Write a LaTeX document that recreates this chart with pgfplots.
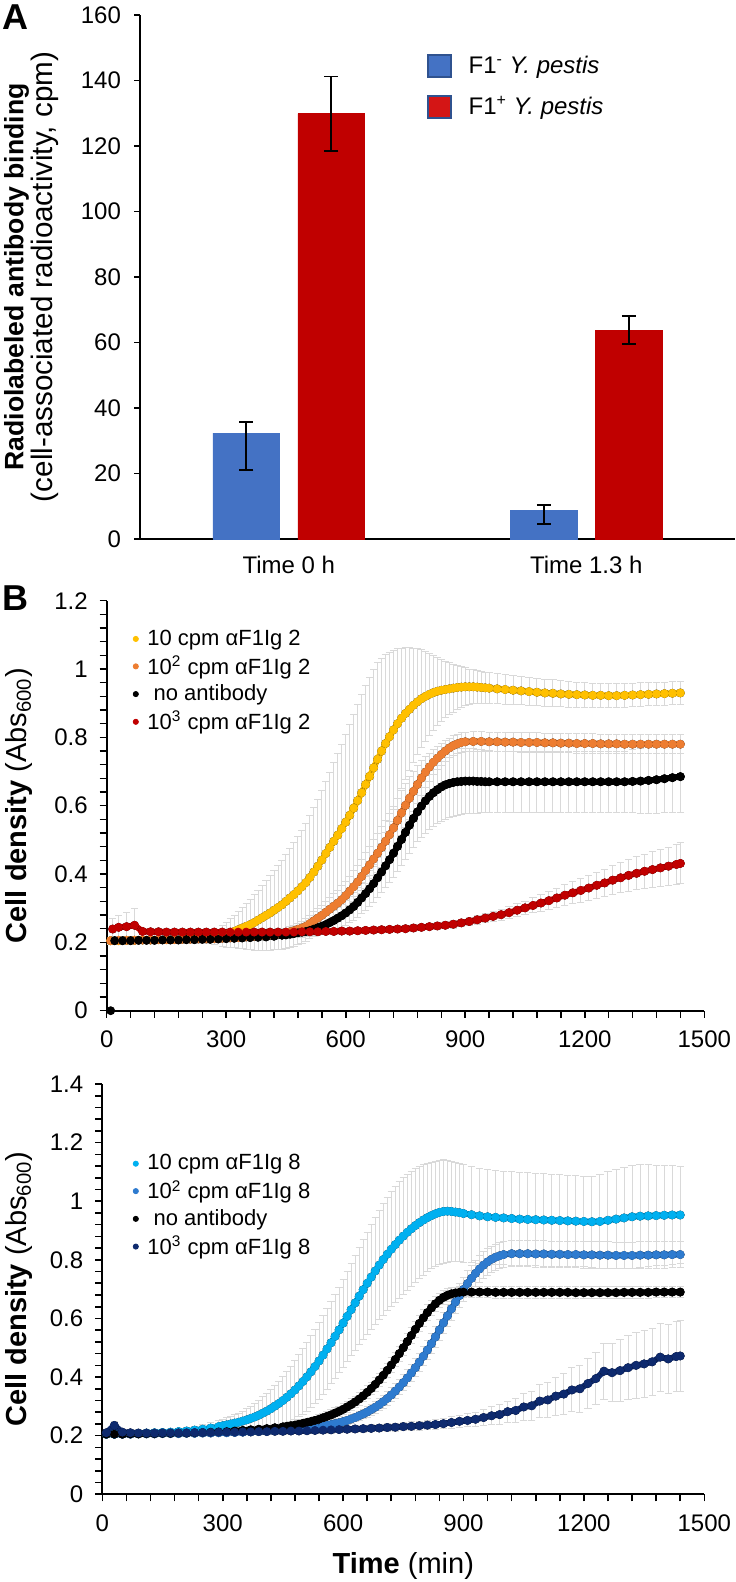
\documentclass[border=0pt]{standalone}
\usepackage{fontspec}
\setmainfont{Liberation Sans}
\usepackage{pgfplots}
\pgfplotsset{compat=1.18}
\usepackage{pgfplotstable}

\definecolor{barblue}{HTML}{4472C4}
\definecolor{legblue}{HTML}{2F528F}
\definecolor{barred}{HTML}{C00000}
\definecolor{legred}{HTML}{D41515}
\definecolor{cyel}{HTML}{FFC000}
\definecolor{cora}{HTML}{ED7D31}
\definecolor{cred}{HTML}{C00000}
\definecolor{clb}{HTML}{00B0F0}
\definecolor{cmb}{HTML}{2E7BCF}
\definecolor{cnv}{HTML}{0E2A6E}
\definecolor{errg}{HTML}{D9D9D9}

\pgfplotsset{
  errplot/.style={forget plot, only marks, mark=none,
    error bars/y dir=both, error bars/y explicit,
    error bars/error bar style={draw=errg, line width=0.5pt},
    error bars/error mark options={draw=errg, line width=0.5pt, rotate=90, mark size=1.8pt}},
  bandplot/.style={forget plot, no markers, line width=3pt, line join=round, line cap=round, color=#1},
  dotplot/.style={only marks, mark=*, mark size=2pt, color=#1, mark options={draw=#1, fill=#1}},
}

% ---------- Panel B, top: 10 cpm aF1Ig 2 (yellow)
\pgfplotstableread{
t v e
10 0.205 0.010
30 0.205 0.010
50 0.206 0.010
70 0.206 0.010
90 0.207 0.010
110 0.207 0.010
130 0.208 0.010
150 0.208 0.010
170 0.209 0.010
190 0.210 0.012
210 0.211 0.012
230 0.212 0.015
250 0.214 0.018
270 0.216 0.022
290 0.219 0.030
300 0.222 0.036
310 0.227 0.042
320 0.232 0.048
330 0.237 0.054
340 0.242 0.060
350 0.247 0.067
360 0.252 0.074
370 0.258 0.081
380 0.265 0.088
390 0.272 0.095
400 0.279 0.102
410 0.286 0.109
420 0.294 0.116
430 0.302 0.123
440 0.310 0.130
450 0.320 0.137
460 0.330 0.144
470 0.340 0.151
480 0.351 0.158
490 0.363 0.165
500 0.375 0.172
510 0.390 0.180
520 0.406 0.188
530 0.423 0.196
540 0.441 0.204
550 0.460 0.212
560 0.478 0.220
570 0.496 0.229
580 0.514 0.238
590 0.533 0.247
600 0.552 0.256
610 0.572 0.265
620 0.593 0.274
630 0.615 0.281
640 0.638 0.286
650 0.662 0.289
660 0.686 0.290
670 0.711 0.288
680 0.736 0.282
690 0.760 0.272
700 0.782 0.260
710 0.802 0.247
720 0.822 0.233
730 0.840 0.219
740 0.856 0.205
750 0.870 0.192
760 0.882 0.180
770 0.894 0.167
780 0.904 0.155
790 0.913 0.143
800 0.920 0.131
810 0.926 0.120
820 0.931 0.110
830 0.935 0.100
840 0.938 0.091
850 0.940 0.083
860 0.942 0.076
870 0.944 0.070
880 0.946 0.064
890 0.947 0.059
900 0.948 0.055
910 0.948 0.052
920 0.948 0.050
930 0.947 0.048
940 0.946 0.047
950 0.945 0.046
960 0.944 0.045
980 0.942 0.044
1000 0.940 0.043
1020 0.938 0.042
1040 0.936 0.041
1060 0.934 0.040
1080 0.932 0.040
1100 0.930 0.039
1120 0.929 0.039
1140 0.927 0.038
1160 0.926 0.038
1180 0.925 0.037
1200 0.924 0.037
1220 0.923 0.036
1240 0.923 0.036
1260 0.922 0.036
1280 0.922 0.035
1300 0.923 0.035
1320 0.924 0.035
1340 0.925 0.035
1360 0.926 0.034
1380 0.927 0.034
1400 0.928 0.034
1420 0.929 0.034
1440 0.930 0.033
}\tYa

% 10^2 cpm aF1Ig 2 (orange)
\pgfplotstableread{
t v e
10 0.205 0.008
30 0.206 0.008
50 0.206 0.008
70 0.206 0.008
90 0.207 0.008
110 0.207 0.008
130 0.208 0.008
150 0.208 0.008
170 0.208 0.008
190 0.209 0.008
210 0.209 0.008
230 0.210 0.008
250 0.210 0.008
270 0.211 0.008
290 0.212 0.009
310 0.213 0.009
330 0.214 0.009
350 0.216 0.010
370 0.218 0.010
390 0.220 0.010
410 0.222 0.011
430 0.225 0.011
450 0.229 0.012
460 0.231 0.014
470 0.234 0.016
480 0.238 0.018
490 0.242 0.020
500 0.247 0.022
510 0.255 0.024
520 0.263 0.026
530 0.271 0.028
540 0.279 0.030
550 0.288 0.032
560 0.297 0.034
570 0.306 0.036
580 0.315 0.038
590 0.325 0.040
600 0.337 0.042
610 0.350 0.044
620 0.363 0.046
630 0.377 0.048
640 0.393 0.050
650 0.410 0.052
660 0.427 0.054
670 0.444 0.056
680 0.461 0.058
690 0.478 0.060
700 0.496 0.062
710 0.515 0.063
720 0.535 0.064
730 0.557 0.065
740 0.579 0.065
750 0.601 0.064
760 0.622 0.062
770 0.642 0.059
780 0.662 0.055
790 0.681 0.050
800 0.698 0.045
810 0.713 0.041
820 0.727 0.037
830 0.739 0.034
840 0.750 0.032
850 0.760 0.030
860 0.769 0.029
870 0.776 0.028
880 0.781 0.028
890 0.785 0.028
900 0.787 0.028
920 0.788 0.028
940 0.788 0.028
960 0.787 0.028
980 0.787 0.028
1000 0.786 0.028
1020 0.786 0.028
1040 0.785 0.028
1060 0.785 0.028
1080 0.785 0.028
1100 0.784 0.028
1120 0.784 0.028
1140 0.783 0.028
1160 0.783 0.028
1180 0.782 0.028
1200 0.782 0.028
1220 0.782 0.028
1240 0.781 0.028
1260 0.781 0.028
1280 0.781 0.028
1300 0.780 0.028
1320 0.780 0.028
1340 0.780 0.028
1360 0.780 0.028
1380 0.780 0.028
1400 0.780 0.028
1420 0.780 0.028
1440 0.780 0.028
}\tOa

% no antibody (black), top
\pgfplotstableread{
t v e
20 0.205 0.008
40 0.205 0.008
60 0.205 0.008
80 0.206 0.008
100 0.206 0.008
120 0.206 0.008
140 0.207 0.008
160 0.207 0.008
180 0.207 0.008
200 0.208 0.008
220 0.208 0.008
240 0.209 0.008
260 0.209 0.008
280 0.210 0.008
300 0.211 0.008
320 0.212 0.008
340 0.213 0.008
360 0.214 0.008
380 0.215 0.008
400 0.216 0.008
420 0.218 0.009
440 0.221 0.010
450 0.222 0.011
460 0.224 0.012
470 0.226 0.013
480 0.228 0.014
490 0.230 0.015
500 0.232 0.016
510 0.235 0.018
520 0.239 0.020
530 0.243 0.022
540 0.247 0.024
550 0.252 0.026
560 0.258 0.028
570 0.264 0.030
580 0.271 0.032
590 0.278 0.034
600 0.286 0.036
610 0.295 0.038
620 0.305 0.040
630 0.317 0.043
640 0.330 0.046
650 0.343 0.049
660 0.357 0.052
670 0.372 0.055
680 0.389 0.058
690 0.406 0.061
700 0.424 0.064
710 0.442 0.067
720 0.461 0.070
730 0.481 0.073
740 0.501 0.076
750 0.522 0.079
760 0.543 0.082
770 0.563 0.085
780 0.582 0.088
790 0.599 0.091
800 0.614 0.094
810 0.627 0.096
820 0.638 0.098
830 0.647 0.099
840 0.655 0.100
850 0.661 0.100
860 0.665 0.100
870 0.668 0.099
880 0.670 0.098
890 0.671 0.097
900 0.672 0.096
910 0.672 0.095
920 0.672 0.094
930 0.671 0.093
940 0.671 0.092
950 0.670 0.091
960 0.670 0.091
980 0.670 0.090
1000 0.670 0.090
1020 0.670 0.090
1040 0.670 0.090
1060 0.670 0.090
1080 0.670 0.090
1100 0.670 0.090
1120 0.670 0.090
1140 0.670 0.090
1160 0.670 0.090
1180 0.670 0.090
1200 0.670 0.090
1220 0.670 0.090
1240 0.670 0.090
1260 0.670 0.090
1280 0.670 0.090
1300 0.670 0.090
1320 0.671 0.092
1340 0.672 0.094
1360 0.674 0.096
1380 0.676 0.098
1400 0.679 0.100
1420 0.682 0.102
1440 0.685 0.104
}\tKa

% 10^3 cpm aF1Ig 2 (red)
\pgfplotstableread{
t v e
15 0.239 0.030
30 0.244 0.035
50 0.246 0.042
70 0.250 0.050
90 0.232 0.010
110 0.231 0.008
130 0.231 0.008
150 0.230 0.008
170 0.230 0.008
190 0.230 0.008
210 0.230 0.008
230 0.230 0.008
250 0.230 0.008
270 0.230 0.008
290 0.230 0.008
310 0.230 0.008
330 0.230 0.008
350 0.230 0.008
370 0.230 0.008
390 0.230 0.008
410 0.230 0.008
430 0.230 0.008
450 0.230 0.008
470 0.230 0.008
490 0.231 0.008
510 0.231 0.008
530 0.231 0.008
550 0.232 0.008
570 0.232 0.008
590 0.233 0.008
610 0.233 0.008
630 0.234 0.008
650 0.235 0.008
670 0.236 0.008
690 0.237 0.008
710 0.238 0.008
730 0.239 0.008
750 0.240 0.009
770 0.242 0.009
790 0.244 0.009
810 0.246 0.009
830 0.248 0.010
850 0.250 0.010
870 0.253 0.011
890 0.257 0.011
910 0.261 0.012
930 0.266 0.013
950 0.271 0.014
970 0.276 0.015
990 0.281 0.016
1010 0.287 0.017
1030 0.294 0.019
1050 0.301 0.020
1070 0.308 0.022
1090 0.315 0.024
1110 0.322 0.026
1130 0.330 0.028
1150 0.338 0.030
1170 0.345 0.032
1190 0.352 0.034
1210 0.359 0.036
1230 0.367 0.038
1250 0.374 0.040
1270 0.382 0.042
1290 0.389 0.044
1310 0.396 0.046
1330 0.402 0.048
1350 0.408 0.050
1370 0.413 0.052
1390 0.418 0.054
1410 0.423 0.056
1430 0.428 0.058
1440 0.431 0.060
}\tRa

% ---------- Panel B, bottom: 10 cpm aF1Ig 8 (light blue)
\pgfplotstableread{
t v e
10 0.205 0.010
30 0.205 0.010
50 0.206 0.010
70 0.207 0.010
90 0.208 0.010
110 0.209 0.010
130 0.210 0.010
150 0.211 0.010
170 0.212 0.010
190 0.214 0.012
210 0.216 0.013
230 0.219 0.014
250 0.222 0.016
270 0.226 0.018
290 0.231 0.020
300 0.234 0.022
310 0.237 0.024
320 0.240 0.026
330 0.243 0.028
340 0.246 0.031
350 0.250 0.034
360 0.254 0.038
370 0.259 0.042
380 0.264 0.046
390 0.270 0.050
400 0.277 0.055
410 0.284 0.060
420 0.292 0.065
430 0.301 0.070
440 0.310 0.076
450 0.320 0.082
460 0.331 0.088
470 0.343 0.094
480 0.356 0.100
490 0.370 0.106
500 0.385 0.112
510 0.401 0.118
520 0.418 0.123
530 0.436 0.127
540 0.455 0.131
550 0.475 0.134
560 0.496 0.137
570 0.517 0.140
580 0.539 0.143
590 0.561 0.146
600 0.584 0.150
610 0.607 0.154
620 0.630 0.158
630 0.653 0.162
640 0.676 0.166
650 0.698 0.170
660 0.720 0.174
670 0.741 0.178
680 0.762 0.182
690 0.782 0.186
700 0.801 0.190
710 0.819 0.193
720 0.836 0.196
730 0.852 0.198
740 0.867 0.199
750 0.881 0.199
760 0.894 0.198
770 0.906 0.196
780 0.917 0.194
790 0.927 0.191
800 0.936 0.188
810 0.944 0.185
820 0.951 0.182
830 0.957 0.180
840 0.962 0.178
850 0.965 0.176
860 0.966 0.174
870 0.965 0.172
880 0.963 0.170
890 0.961 0.168
900 0.958 0.166
920 0.954 0.164
940 0.950 0.163
960 0.947 0.162
980 0.945 0.161
1000 0.943 0.160
1020 0.941 0.160
1040 0.939 0.159
1060 0.938 0.159
1080 0.937 0.158
1100 0.936 0.158
1120 0.935 0.157
1140 0.934 0.157
1160 0.933 0.156
1180 0.932 0.156
1200 0.931 0.155
1220 0.930 0.156
1240 0.931 0.160
1260 0.935 0.166
1280 0.939 0.170
1300 0.943 0.173
1320 0.947 0.175
1340 0.949 0.175
1360 0.950 0.174
1380 0.951 0.172
1400 0.952 0.170
1420 0.953 0.168
1440 0.953 0.166
}\tLb

% 10^2 cpm aF1Ig 8 (medium blue)
\pgfplotstableread{
t v e
10 0.205 0.008
30 0.205 0.008
50 0.205 0.008
70 0.205 0.008
90 0.206 0.008
110 0.206 0.008
130 0.206 0.008
150 0.207 0.008
170 0.207 0.008
190 0.207 0.008
210 0.208 0.008
230 0.208 0.008
250 0.209 0.008
270 0.209 0.008
290 0.210 0.008
310 0.210 0.008
330 0.211 0.008
350 0.212 0.008
370 0.213 0.008
390 0.214 0.009
410 0.215 0.009
430 0.217 0.009
450 0.219 0.009
470 0.221 0.009
490 0.223 0.010
510 0.226 0.010
530 0.229 0.010
550 0.233 0.010
560 0.235 0.010
570 0.238 0.011
580 0.241 0.011
590 0.244 0.011
600 0.248 0.012
610 0.252 0.013
620 0.257 0.014
630 0.262 0.015
640 0.268 0.016
650 0.274 0.017
660 0.281 0.018
670 0.289 0.019
680 0.297 0.020
690 0.306 0.021
700 0.316 0.022
710 0.327 0.023
720 0.339 0.024
730 0.352 0.025
740 0.366 0.026
750 0.381 0.027
760 0.397 0.028
770 0.414 0.029
780 0.432 0.030
790 0.451 0.031
800 0.471 0.032
810 0.492 0.033
820 0.514 0.034
830 0.537 0.035
840 0.561 0.036
850 0.585 0.037
860 0.609 0.038
870 0.633 0.039
880 0.656 0.040
890 0.678 0.041
900 0.699 0.042
910 0.719 0.043
920 0.737 0.044
930 0.754 0.044
940 0.769 0.045
950 0.782 0.045
960 0.793 0.045
970 0.802 0.045
980 0.809 0.045
990 0.814 0.045
1000 0.818 0.045
1020 0.821 0.045
1040 0.821 0.045
1060 0.821 0.045
1080 0.820 0.045
1100 0.820 0.045
1120 0.819 0.045
1140 0.819 0.045
1160 0.818 0.045
1180 0.818 0.045
1200 0.817 0.045
1220 0.817 0.045
1240 0.816 0.045
1260 0.816 0.045
1280 0.815 0.045
1300 0.815 0.045
1320 0.815 0.045
1340 0.816 0.045
1360 0.816 0.045
1380 0.817 0.045
1400 0.817 0.045
1420 0.818 0.045
1440 0.818 0.045
}\tMb

% no antibody (black), bottom
\pgfplotstableread{
t v e
10 0.205 0.010
30 0.205 0.010
50 0.205 0.010
70 0.206 0.010
90 0.206 0.010
110 0.207 0.010
130 0.207 0.010
150 0.208 0.010
170 0.208 0.010
190 0.209 0.010
210 0.209 0.010
230 0.210 0.010
250 0.211 0.010
270 0.212 0.010
290 0.213 0.010
310 0.214 0.010
330 0.216 0.010
350 0.218 0.010
370 0.220 0.010
390 0.222 0.011
410 0.224 0.011
430 0.227 0.012
450 0.230 0.012
460 0.232 0.012
470 0.234 0.013
480 0.236 0.013
490 0.239 0.013
500 0.242 0.014
510 0.245 0.014
520 0.248 0.015
530 0.252 0.015
540 0.256 0.016
550 0.261 0.016
560 0.266 0.017
570 0.271 0.017
580 0.277 0.018
590 0.283 0.018
600 0.290 0.019
610 0.298 0.019
620 0.306 0.020
630 0.315 0.020
640 0.325 0.021
650 0.336 0.021
660 0.348 0.022
670 0.361 0.022
680 0.375 0.023
690 0.390 0.023
700 0.406 0.024
710 0.423 0.024
720 0.441 0.025
730 0.460 0.025
740 0.480 0.026
750 0.500 0.026
760 0.521 0.027
770 0.542 0.027
780 0.563 0.028
790 0.583 0.028
800 0.602 0.028
810 0.620 0.027
820 0.636 0.026
830 0.650 0.025
840 0.662 0.024
850 0.672 0.023
860 0.679 0.022
870 0.684 0.021
880 0.687 0.020
890 0.689 0.020
900 0.690 0.020
920 0.690 0.020
940 0.690 0.020
960 0.690 0.020
980 0.689 0.020
1000 0.689 0.020
1020 0.689 0.020
1040 0.689 0.020
1060 0.689 0.020
1080 0.689 0.020
1100 0.689 0.020
1120 0.689 0.020
1140 0.689 0.020
1160 0.689 0.020
1180 0.688 0.020
1200 0.688 0.020
1220 0.688 0.020
1240 0.688 0.020
1260 0.688 0.020
1280 0.688 0.020
1300 0.689 0.020
1320 0.689 0.020
1340 0.689 0.020
1360 0.689 0.020
1380 0.690 0.020
1400 0.690 0.020
1420 0.690 0.020
1440 0.690 0.020
}\tKb

% 10^3 cpm aF1Ig 8 (navy)
\pgfplotstableread{
t v e
10 0.210 0.012
30 0.235 0.015
50 0.212 0.010
70 0.210 0.010
90 0.209 0.010
110 0.209 0.010
130 0.209 0.010
150 0.210 0.010
170 0.210 0.010
190 0.210 0.010
210 0.210 0.010
230 0.211 0.010
250 0.211 0.010
270 0.211 0.010
290 0.212 0.010
310 0.212 0.010
330 0.212 0.010
350 0.213 0.010
370 0.213 0.010
390 0.214 0.010
410 0.214 0.010
430 0.215 0.010
450 0.215 0.010
470 0.216 0.010
490 0.216 0.010
510 0.217 0.010
530 0.218 0.010
550 0.219 0.011
570 0.220 0.011
590 0.221 0.011
610 0.222 0.011
630 0.223 0.012
650 0.224 0.012
670 0.225 0.012
690 0.226 0.013
710 0.228 0.013
730 0.229 0.014
750 0.231 0.014
770 0.232 0.015
790 0.234 0.015
810 0.236 0.016
830 0.238 0.017
850 0.241 0.018
870 0.245 0.019
890 0.249 0.020
910 0.252 0.022
930 0.256 0.024
950 0.262 0.027
970 0.268 0.030
990 0.272 0.033
1010 0.282 0.036
1030 0.286 0.040
1050 0.298 0.045
1070 0.302 0.050
1090 0.318 0.055
1110 0.322 0.060
1130 0.335 0.065
1150 0.342 0.070
1170 0.356 0.075
1190 0.360 0.080
1210 0.378 0.085
1230 0.395 0.090
1250 0.420 0.095
1270 0.415 0.100
1290 0.422 0.105
1310 0.432 0.109
1330 0.440 0.112
1350 0.445 0.114
1370 0.452 0.115
1390 0.468 0.116
1410 0.462 0.118
1430 0.470 0.119
1440 0.472 0.120
}\tNb

\begin{document}
\begin{tikzpicture}
\useasboundingbox (0,0) rectangle (367.5pt,791pt);

% ================= Panel A =================
\begin{axis}[
  at={(70pt,521.5pt)}, anchor=south west, scale only axis,
  width=297.5pt, height=262pt,
  xmin=-0.5, xmax=1.5, ymin=0, ymax=160, enlargelimits=false,
  axis lines*=left, axis line style={line width=0.8pt, black},
  ytick={0,20,40,60,80,100,120,140,160},
  xtick={0,1}, xticklabels={Time 0 h, Time 1.3 h},
  xtick style={draw=none},
  ytick style={line width=0.8pt, black},
  tick align=outside, major tick length=3pt,
  ticklabel style={font=\fontsize{12}{14}\selectfont},
  /pgf/number format/assume math mode=true,
  yticklabel style={xshift=-3pt},
  xticklabel style={yshift=-1.8pt},
  ybar, bar width=33.35pt,
  ylabel={{\fontsize{13.3}{17.5}\selectfont\textbf{Radiolabeled antibody binding}}\\{\fontsize{14.8}{17.5}\selectfont(cell-associated radioactivity, cpm)}},
  ylabel style={align=center, at={(axis description cs:-0.1824,0.5)}, anchor=center},
  clip=false,
  legend style={at={(axis description cs:0.4824,0.93)}, anchor=north west, draw=none, fill=none, inner sep=0pt, row sep=6pt, font=\fontsize{12}{14}\selectfont},
  legend cell align=left,
  error bars/y dir=both, error bars/y explicit,
  error bars/error bar style={line width=0.9pt, draw=black},
  error bars/error mark options={rotate=90, mark size=3.5pt, line width=0.9pt, draw=black},
]
\addplot[fill=barblue, draw=barblue, bar shift=-21.25pt,
  legend image code/.code={\draw[fill=barblue, draw=legblue, line width=0.8pt] (0pt,-5.5pt) rectangle (11.5pt,5.5pt); \path (18pt,0pt);}]
  coordinates {(0,32.3) += (0,3.5) -= (0,11.3) (1,8.7) += (0,1.6) -= (0,4.1)};
\addlegendentry{F1\textsuperscript{-} \textit{Y. pestis}}
\addplot[fill=barred, draw=barred, bar shift=21.25pt,
  legend image code/.code={\draw[fill=legred, draw=legblue, line width=0.8pt] (0pt,-5.5pt) rectangle (11.5pt,5.5pt); \path (18pt,0pt);}]
  coordinates {(0,129.9) += (0,11.3) -= (0,11.4) (1,63.7) += (0,4.5) -= (0,4.1)};
\addlegendentry{F1\textsuperscript{+} \textit{Y. pestis}}
\node[font=\bfseries\fontsize{18}{20}\selectfont] at (axis description cs:-0.21,0.996) {A};
\end{axis}

% ================= Panel B top =================
\begin{axis}[
  at={(53.35pt,285.65pt)}, anchor=south west, scale only axis,
  width=298.8pt, height=205pt,
  xmin=0, xmax=1500, ymin=0, ymax=1.2, enlargelimits=false,
  axis lines*=left, axis line style={line width=0.9pt, black},
  xtick={0,300,600,900,1200,1500}, ytick={0,0.2,0.4,0.6,0.8,1,1.2},
  minor x tick num=4, minor y tick num=4,
  tick align=outside, major tick length=3.5pt, minor tick length=3.5pt,
  tick style={line width=0.8pt, black},
  ticklabel style={font=\fontsize{12}{14}\selectfont},
  /pgf/number format/assume math mode=true, /pgf/number format/1000 sep={},
  yticklabel style={xshift=-2.5pt}, xticklabel style={yshift=-3pt},
  ylabel={\textbf{Cell density} (Abs\textsubscript{600})},
  ylabel style={font=\fontsize{14.5}{17}\selectfont, at={(axis description cs:-0.1468,0.5)}, anchor=center},
  clip=false,
  legend style={at={(axis description cs:0.043,0.933)}, anchor=north west, draw=none, fill=none, inner sep=0pt, row sep=2.5pt, font=\fontsize{11}{13}\selectfont, nodes={inner sep=0.6pt}},
  legend cell align=left,
  legend image code/.code={\draw[#1, mark size=1.3pt] plot coordinates {(0pt,0pt)}; \path (-1.3pt,0pt) (5pt,0pt);},
]
\addplot[errplot] table[x=t, y=v, y error=e] \tYa;
\addplot[errplot] table[x=t, y=v, y error=e] \tOa;
\addplot[errplot] table[x=t, y=v, y error=e] \tKa;
\addplot[errplot] table[x=t, y=v, y error=e] \tRa;
\addplot[bandplot=cyel] table[x=t, y=v] \tYa;
\addplot[dotplot=cyel] table[x=t, y=v] \tYa;
\addlegendentry{10 cpm αF1Ig 2}
\addplot[bandplot=cora] table[x=t, y=v] \tOa;
\addplot[dotplot=cora] table[x=t, y=v] \tOa;
\addlegendentry{10\textsuperscript{2} cpm αF1Ig 2}
\addplot[bandplot=black] table[x=t, y=v] \tKa;
\addplot[dotplot=black] table[x=t, y=v] \tKa;
\addlegendentry{\hspace{0.28em}no antibody}
\addplot[bandplot=cred] table[x=t, y=v] \tRa;
\addplot[dotplot=cred] table[x=t, y=v] \tRa;
\addlegendentry{10\textsuperscript{3} cpm αF1Ig 2}
\addplot[dotplot=black, forget plot] coordinates {(10,0)};
\node[font=\bfseries\fontsize{18}{20}\selectfont] at (axis description cs:-0.1534,1.0066) {B};
\end{axis}

% ================= Panel B bottom =================
\begin{axis}[
  at={(51.15pt,43.85pt)}, anchor=south west, scale only axis,
  width=301pt, height=205.15pt,
  xmin=0, xmax=1500, ymin=0, ymax=1.4, enlargelimits=false,
  axis lines*=left, axis line style={line width=0.9pt, black},
  xtick={0,300,600,900,1200,1500}, ytick={0,0.2,0.4,0.6,0.8,1,1.2,1.4},
  minor x tick num=4, minor y tick num=4,
  tick align=outside, major tick length=3.5pt, minor tick length=3.5pt,
  tick style={line width=0.8pt, black},
  ticklabel style={font=\fontsize{12}{14}\selectfont},
  /pgf/number format/assume math mode=true, /pgf/number format/1000 sep={},
  yticklabel style={xshift=-2.5pt}, xticklabel style={yshift=-3pt},
  ylabel={\textbf{Cell density} (Abs\textsubscript{600})},
  ylabel style={font=\fontsize{14.5}{17}\selectfont, at={(axis description cs:-0.1384,0.5)}, anchor=center},
  xlabel={\textbf{Time} (min)},
  xlabel style={font=\fontsize{14.5}{17}\selectfont, at={(axis description cs:0.5,-0.1747)}, anchor=center},
  clip=false,
  legend style={at={(axis description cs:0.05,0.832)}, anchor=north west, draw=none, fill=none, inner sep=0pt, row sep=2.5pt, font=\fontsize{11}{13}\selectfont, nodes={inner sep=0.6pt}},
  legend cell align=left,
  legend image code/.code={\draw[#1, mark size=1.3pt] plot coordinates {(0pt,0pt)}; \path (-1.3pt,0pt) (5pt,0pt);},
]
\addplot[errplot] table[x=t, y=v, y error=e] \tLb;
\addplot[errplot] table[x=t, y=v, y error=e] \tMb;
\addplot[errplot] table[x=t, y=v, y error=e] \tKb;
\addplot[errplot] table[x=t, y=v, y error=e] \tNb;
\addplot[bandplot=clb] table[x=t, y=v] \tLb;
\addplot[dotplot=clb] table[x=t, y=v] \tLb;
\addlegendentry{10 cpm αF1Ig 8}
\addplot[bandplot=cmb] table[x=t, y=v] \tMb;
\addplot[dotplot=cmb] table[x=t, y=v] \tMb;
\addlegendentry{10\textsuperscript{2} cpm αF1Ig 8}
\addplot[bandplot=black] table[x=t, y=v] \tKb;
\addplot[dotplot=black] table[x=t, y=v] \tKb;
\addlegendentry{\hspace{0.28em}no antibody}
\addplot[bandplot=cnv] table[x=t, y=v] \tNb;
\addplot[dotplot=cnv] table[x=t, y=v] \tNb;
\addlegendentry{10\textsuperscript{3} cpm αF1Ig 8}
\end{axis}
\end{tikzpicture}
\end{document}
